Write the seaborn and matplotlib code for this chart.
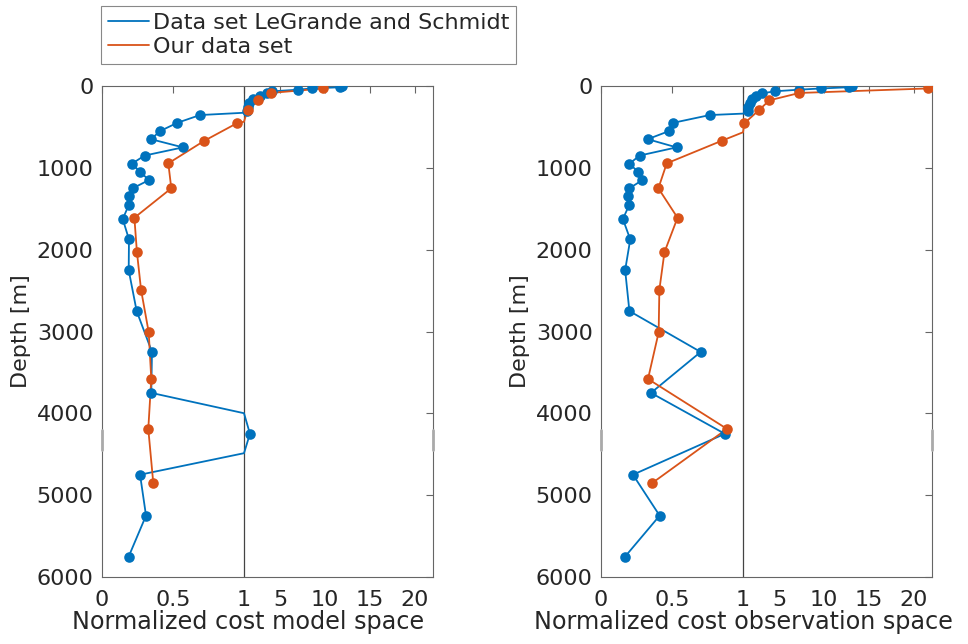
import numpy as np
import pandas as pd
import matplotlib
matplotlib.use("Agg")
import matplotlib.pyplot as plt
import matplotlib.transforms as mtransforms
import seaborn as sns

# ---------------- data ----------------
depth_ls = [5, 15, 30, 45, 65, 90, 120, 160, 210, 260, 300, 355, 450, 550, 650,
            750, 850, 950, 1050, 1150, 1250, 1350, 1450, 1625, 1875, 2250, 2750,
            3250, 3750, 4250, 4750, 5250, 5750]
depth_ours = [30, 85, 175, 290, 455, 670, 945, 1250, 1610, 2030, 2490, 3010,
              3580, 4190, 4850]

model_ls = [11.9, 11.7, 8.55, 7.0, 4.15, 3.5, 2.76, 2.0, 1.6, 1.4, 1.3, 0.69,
            0.53, 0.41, 0.345, 0.57, 0.30, 0.21, 0.27, 0.33, 0.216, 0.19, 0.19,
            0.146, 0.19, 0.188, 0.244, 0.352, 0.347, 1.66, 0.268, 0.31, 0.188]
model_ours = [9.8, 3.97, 2.5, 1.4, 0.95, 0.72, 0.467, 0.488, 0.228, 0.246,
              0.275, 0.329, 0.347, 0.326, 0.361]

obs_ls = [13.15, 12.8, 9.7, 7.2, 4.5, 3.15, 2.4, 1.97, 1.78, 1.6, 1.5, 0.766,
          0.508, 0.48, 0.329, 0.532, 0.272, 0.2, 0.262, 0.291, 0.2, 0.187, 0.2,
          0.154, 0.206, 0.17, 0.2, 0.702, 0.352, 0.872, 0.225, 0.413, 0.17]
obs_ours = [21.56, 7.27, 3.93, 2.82, 1.16, 0.849, 0.463, 0.404, 0.539, 0.447,
            0.411, 0.406, 0.331, 0.887, 0.362]

xticks = [0, 0.5, 1, 5, 10, 15, 20]
xticklabels = ["0", "0.5", "1", "5", "10", "15", "20"]
yticks = [0, 1000, 2000, 3000, 4000, 5000, 6000]
series_names = ["Data set LeGrande and Schmidt", "Our data set"]
xlabels = ["Normalized cost model space", "Normalized cost observation space"]

# ---------------- style ----------------
sns.set_theme(style="white")
plt.rcParams["font.family"] = ["DejaVu Sans"]
BLUE = "#0072BD"
ORANGE = "#D95319"
AXC = "#666666"
FS = 16

BREAK = 1.0
K = 9.0 / 142.0  # compression of the part above the break


def fwd(x):
    x = np.asarray(x, dtype=float)
    return np.where(x <= BREAK, x, BREAK + (x - BREAK) * K)


def inv(y):
    y = np.asarray(y, dtype=float)
    return np.where(y <= BREAK, y, BREAK + (y - BREAK) / K)


def with_break(xs, ds):
    """Insert the crossing point at the axis break (lines are straight in data space)."""
    ox, od = [xs[0]], [ds[0]]
    for i in range(1, len(xs)):
        x0, x1, d0, d1 = xs[i - 1], xs[i], ds[i - 1], ds[i]
        if (x0 - BREAK) * (x1 - BREAK) < 0:
            t = (BREAK - x0) / (x1 - x0)
            ox.append(BREAK)
            od.append(d0 + t * (d1 - d0))
        ox.append(x1)
        od.append(d1)
    return ox, od


fig = plt.figure(figsize=(9.68, 6.44), dpi=100)
W, H = 968.0, 644.0
ax_l = fig.add_axes([102 / W, 67 / H, 331 / W, 491 / H])
ax_r = fig.add_axes([601 / W, 67 / H, 331 / W, 491 / H])

panels = [(ax_l, model_ls, model_ours, xlabels[0], 0.441),
          (ax_r, obs_ls, obs_ours, xlabels[1], 0.43)]

for ax, vls, vours, xl, lx in panels:
    ax.set_xscale("function", functions=(fwd, inv))
    for vals, deps, col, name in [(vls, depth_ls, BLUE, series_names[0]),
                                  (vours, depth_ours, ORANGE, series_names[1])]:
        bx, bd = with_break(vals, deps)
        sns.lineplot(x=bx, y=bd, sort=False, estimator=None, color=col,
                     linewidth=1.3, ax=ax, label=name, zorder=3)
        sns.scatterplot(x=vals, y=deps, color=col, s=58, linewidth=0,
                        ax=ax, zorder=4)
    ax.axvline(BREAK, color="#444444", linewidth=0.9, zorder=2)
    ax.set_xlim(0, 22)
    ax.set_ylim(6000, 0)
    ax.set_xticks(xticks)
    ax.set_xticklabels(xticklabels)
    ax.set_yticks(yticks)
    ax.set_yticklabels([str(t) for t in yticks])
    ax.minorticks_off()
    ax.tick_params(direction="in", top=True, right=True, length=5, width=0.8,
                   color=AXC, labelsize=FS, labelcolor="#262626")
    ax.tick_params(axis="x", pad=9)
    ax.tick_params(axis="y", pad=6)
    for sp in ax.spines.values():
        sp.set_color(AXC)
        sp.set_linewidth(0.8)
    ax.set_xlabel(xl, fontsize=17.2, color="#262626")
    ax.xaxis.set_label_coords(lx, -0.068)
    ax.set_ylabel("Depth [m]", fontsize=FS, color="#262626", labelpad=4)
    # small axis-break marks on the side spines
    tr = mtransforms.blended_transform_factory(ax.transAxes, ax.transData)
    for xa in (0, 1):
        ax.plot([xa, xa], [4200, 4450], transform=tr, color="#aaaaaa",
                linewidth=2.0, clip_on=False, zorder=5)

handles, labels = ax_l.get_legend_handles_labels()
for a in (ax_l, ax_r):
    lg = a.get_legend()
    if lg is not None:
        lg.remove()

leg = fig.legend(handles[:2], labels[:2], loc="upper left",
                 bbox_to_anchor=(101 / W, 1 - 6 / H), frameon=True,
                 fancybox=False, edgecolor="#888888", fontsize=FS,
                 handlelength=1.85, handletextpad=0.2, borderpad=0.3,
                 labelspacing=0.2, borderaxespad=0)
leg.get_frame().set_linewidth(0.8)
leg.get_frame().set_alpha(1)

fig.savefig("out.png", dpi=100)
